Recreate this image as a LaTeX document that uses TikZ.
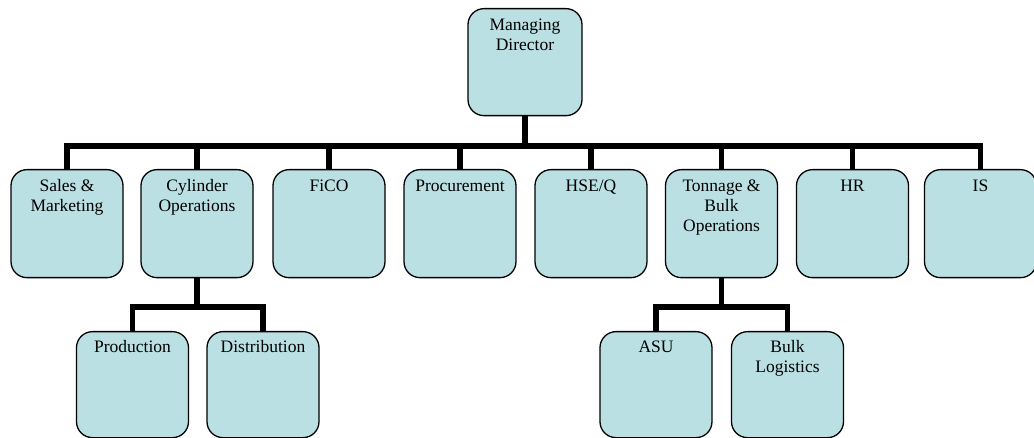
\documentclass[tikz,border=0pt]{standalone}
\usepackage{fontspec}
\setmainfont{Liberation Serif}
\definecolor{boxblue}{RGB}{186,224,227}
\newcommand{\boxtext}[1]{\parbox[c][106pt][t]{110pt}{\centering\fontsize{17.5}{20}\selectfont\vspace*{7pt}\strut #1}}
\begin{document}
\begin{tikzpicture}[x=1pt,y=-1pt,
  orgbox/.style={draw=black, line width=1.3pt, fill=boxblue, rounded corners=16pt,
    inner sep=0pt, minimum width=112pt, minimum height=108pt, anchor=north},
  smallbox/.style={orgbox, minimum height=106pt},
  conn/.style={draw=black, line width=5.5pt}]
\useasboundingbox (0,0) rectangle (1034,438);
% top
\node[orgbox, minimum width=114pt, minimum height=107pt] (md) at (525,8) {\boxtext{Managing\\Director}};
% second row
\node[orgbox] (sales) at (67,169) {\boxtext{Sales \&\\Marketing}};
\node[orgbox] (cyl) at (197,169) {\boxtext{Cylinder\\Operations}};
\node[orgbox] (fico) at (329,169) {\boxtext{FiCO}};
\node[orgbox] (proc) at (460,169) {\boxtext{Procurement}};
\node[orgbox] (hse) at (591,169) {\boxtext{HSE/Q}};
\node[orgbox] (ton) at (721.5,169) {\boxtext{Tonnage \&\\Bulk\\Operations}};
\node[orgbox] (hr) at (852.5,169) {\boxtext{HR}};
\node[orgbox] (is) at (980.5,169) {\boxtext{IS}};
% third row
\node[smallbox] (prod) at (132.5,331) {\boxtext{Production}};
\node[smallbox] (dist) at (263,331) {\boxtext{Distribution}};
\node[smallbox] (asu) at (656,331) {\boxtext{ASU}};
\node[smallbox] (bulk) at (787.5,331) {\boxtext{Bulk\\Logistics}};
% connectors
\coordinate (bar) at (525,146);
\draw[conn] (md.south) -- (bar);
\foreach \c in {sales,cyl,fico,proc,hse,ton,hr,is}
  \draw[conn] (bar) -| (\c.north);
\coordinate (cbar) at (197,307);
\draw[conn] (cyl.south) -- (cbar);
\foreach \c in {prod,dist}
  \draw[conn] (cbar) -| (\c.north);
\coordinate (tbar) at (721.5,307);
\draw[conn] (ton.south) -- (tbar);
\foreach \c in {asu,bulk}
  \draw[conn] (tbar) -| (\c.north);
\end{tikzpicture}
\end{document}
